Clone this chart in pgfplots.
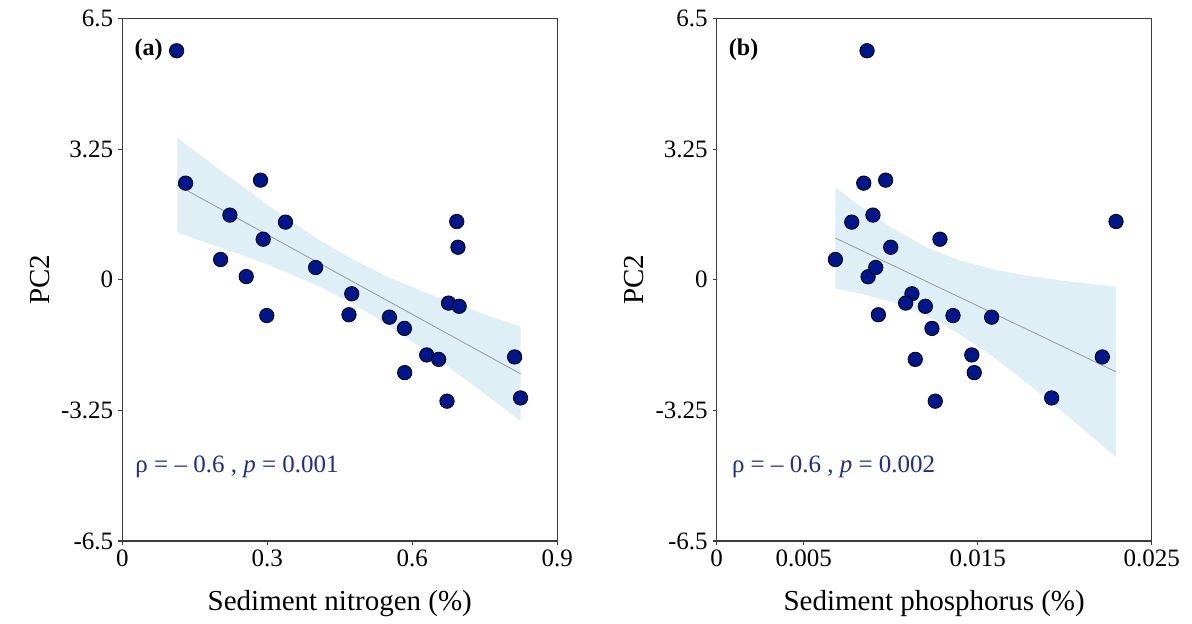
\documentclass[border=0pt]{standalone}
\usepackage{pgfplots}
\pgfplotsset{compat=1.18}
\usepackage{fontspec}
\setmainfont{Liberation Serif}
\definecolor{markblue}{RGB}{0,22,140}
\definecolor{bandblue}{RGB}{222,239,246}
\definecolor{annblue}{RGB}{30,45,145}
\definecolor{axgray}{RGB}{60,60,60}
\begin{document}
\begin{tikzpicture}
\pgfplotsset{
  every axis/.append style={
    scale only axis, width=217.5pt, height=261.2pt,
    ymin=-6.5, ymax=6.5,
    ytick={-6.5,-3.25,0,3.25,6.5},
    yticklabels={-6.5,-3.25,0,3.25,6.5},
    scaled x ticks=false, scaled y ticks=false,
    tick pos=left, tick align=outside,
    major tick length=2pt,
    axis line style={axgray, line width=0.6pt},
    every tick/.style={axgray, line width=0.6pt},
    tick label style={font=\fontsize{12.5}{14}\selectfont},
    yticklabel style={xshift=1pt},
    xticklabel style={yshift=1pt},
    /pgf/number format/assume math mode=true,
    label style={font=\fontsize{14.5}{17}\selectfont},
    ylabel={PC2},
    ylabel style={at={(axis description cs:-0.19,0.5)}, anchor=center},
    xlabel style={at={(axis description cs:0.5,-0.119)}, anchor=center},
  },
  pts/.style={only marks, mark=*, mark size=3.6pt,
    mark options={fill=markblue, draw=black, line width=0.4pt}},
}
% ---------- panel (a)
\begin{axis}[at={(0,0)},
  xmin=0, xmax=0.9,
  xtick={0,0.3,0.6,0.9}, xticklabels={0,0.3,0.6,0.9},
  xlabel={Sediment nitrogen (\%)}]
\addplot[fill=bandblue, draw=none] coordinates {
 (0.1137,3.537) (0.2,2.75) (0.3,1.866) (0.4,1.048) (0.47,0.548) (0.55,0.067)
 (0.65,-0.428) (0.75,-0.862) (0.824,-1.164)
 (0.824,-3.516) (0.75,-2.84) (0.65,-1.952) (0.55,-1.125) (0.47,-0.548)
 (0.4,-0.123) (0.3,0.382) (0.2,0.82) (0.1137,1.173)};
\addplot[gray!80, line width=0.4pt] coordinates {(0.1137,2.355) (0.824,-2.34)};
\addplot[pts] coordinates {
 (0.1124,5.70) (0.131,2.405) (0.286,2.48) (0.2226,1.61) (0.3377,1.435)
 (0.692,1.45) (0.2915,1.01) (0.6945,0.81) (0.2034,0.505) (0.2564,0.08)
 (0.400,0.306) (0.4748,-0.348) (0.675,-0.58) (0.697,-0.66) (0.299,-0.89)
 (0.469,-0.87) (0.5527,-0.93) (0.5837,-1.21) (0.6298,-1.87) (0.6546,-1.98)
 (0.8117,-1.92) (0.5843,-2.31) (0.6718,-3.02) (0.824,-2.94)};
\node[anchor=west, font=\bfseries\fontsize{12}{14}\selectfont] at (axis description cs:0.012,0.94) {(a)};
\node[anchor=west, text=annblue, font=\fontsize{12.5}{15}\selectfont] at (axis description cs:0.014,0.142) {ρ = – 0.6 , \textit{p} = 0.001};
\end{axis}
% ---------- panel (b)
\begin{axis}[at={(297.2pt,0)},
  xmin=0, xmax=0.025,
  xtick={0,0.005,0.015,0.025}, xticklabels={0,0.005,0.015,0.025},
  xlabel={Sediment phosphorus (\%)}]
\addplot[fill=bandblue, draw=none] coordinates {
 (0.00682,2.30) (0.008,1.91) (0.010,1.308) (0.012,0.82) (0.014,0.475)
 (0.016,0.248) (0.018,0.09) (0.020,-0.031) (0.02295,-0.171)
 (0.02295,-4.411) (0.020,-3.333) (0.018,-2.626) (0.016,-1.958) (0.014,-1.359)
 (0.012,-0.878) (0.010,-0.54) (0.008,-0.318) (0.00682,-0.22)};
\addplot[gray!80, line width=0.4pt] coordinates {(0.00682,1.04) (0.02295,-2.29)};
\addplot[pts] coordinates {
 (0.00864,5.70) (0.00845,2.405) (0.00971,2.48) (0.00898,1.61) (0.00776,1.435)
 (0.02295,1.45) (0.01283,1.01) (0.0100,0.81) (0.00682,0.505) (0.0087,0.075)
 (0.00914,0.306) (0.01122,-0.348) (0.01086,-0.58) (0.01199,-0.66) (0.00929,-0.87)
 (0.01358,-0.89) (0.0158,-0.93) (0.01237,-1.21) (0.01466,-1.87) (0.01141,-1.98)
 (0.02216,-1.92) (0.0148,-2.31) (0.01256,-3.02) (0.01925,-2.94)};
\node[anchor=west, font=\bfseries\fontsize{12}{14}\selectfont] at (axis description cs:0.012,0.94) {(b)};
\node[anchor=west, text=annblue, font=\fontsize{12.5}{15}\selectfont] at (axis description cs:0.019,0.142) {ρ = – 0.6 , \textit{p} = 0.002};
\end{axis}
\path[use as bounding box] (-61.15pt,-39pt) rectangle (534.85pt,270.5pt);
\end{tikzpicture}
\end{document}
